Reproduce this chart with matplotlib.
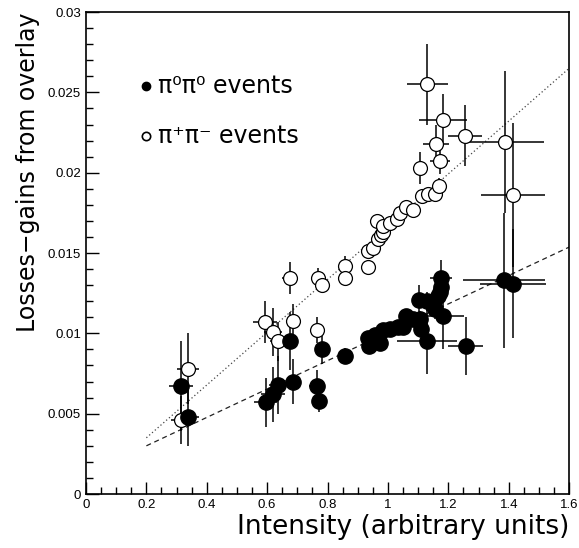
import matplotlib
matplotlib.use("Agg")
import matplotlib.pyplot as plt
from matplotlib.ticker import MultipleLocator

# pi0 pi0 events (filled)
neu_x = [0.315, 0.338, 0.596, 0.62, 0.636, 0.685, 0.675, 0.765, 0.77, 0.78,
         0.858, 0.935, 0.937, 0.957, 0.974, 0.983, 1.007, 1.033, 1.05, 1.06,
         1.083, 1.106, 1.109, 1.103, 1.13, 1.149, 1.156, 1.166, 1.172, 1.175,
         1.175, 1.182, 1.13, 1.258, 1.384, 1.414]
neu_y = [0.0067, 0.0048, 0.0057, 0.0062, 0.0068, 0.0070, 0.0095, 0.0067, 0.0058, 0.0090,
         0.0086, 0.0097, 0.0092, 0.0099, 0.0094, 0.0102, 0.0103, 0.0104, 0.0104, 0.0111,
         0.0109, 0.0109, 0.0103, 0.0121, 0.0120, 0.0118, 0.0115, 0.0123, 0.0126, 0.0129,
         0.01345, 0.0111, 0.0095, 0.0092, 0.0133, 0.0131]
neu_xerr = [0.04, 0.035, 0.038, 0.04, 0.03, 0.022, 0.02, 0.028, 0.015, 0.012,
            0.01, 0.01, 0.01, 0.01, 0.01, 0.01, 0.01, 0.01, 0.01, 0.01,
            0.01, 0.012, 0.012, 0.02, 0.015, 0.015, 0.015, 0.015, 0.015, 0.02,
            0.036, 0.07, 0.1, 0.058, 0.137, 0.109]
neu_yerr = [0.0028, 0.0018, 0.0015, 0.0017, 0.0018, 0.0014, 0.0018, 0.001, 0.0007, 0.0009,
            0.0005, 0.0004, 0.0004, 0.0004, 0.0004, 0.0004, 0.0004, 0.0004, 0.0004, 0.0004,
            0.0004, 0.0005, 0.0005, 0.0009, 0.0006, 0.0006, 0.0006, 0.0006, 0.0006, 0.0008,
            0.0011, 0.0021, 0.002, 0.0018, 0.0042, 0.0034]

# pi+ pi- events (open)
chg_x = [0.338, 0.315, 0.593, 0.62, 0.636, 0.685, 0.675, 0.766, 0.768, 0.78,
         0.858, 0.858, 0.935, 0.935, 0.951, 0.968, 0.977, 0.984, 0.964, 0.984,
         1.007, 1.03, 1.04, 1.06, 1.083, 1.112, 1.133, 1.156, 1.169, 1.106,
         1.172, 1.159, 1.182, 1.13, 1.255, 1.387, 1.414]
chg_y = [0.0078, 0.0046, 0.0107, 0.0101, 0.0095, 0.0108, 0.01345, 0.0102, 0.01345, 0.0130,
         0.0142, 0.01345, 0.0141, 0.0151, 0.0153, 0.0159, 0.0161, 0.0163, 0.0170, 0.0167,
         0.0169, 0.0171, 0.0175, 0.01786, 0.0177, 0.01855, 0.0187, 0.0187, 0.0192, 0.0203,
         0.0207, 0.0218, 0.0233, 0.0255, 0.0223, 0.0219, 0.0186]
chg_xerr = [0.035, 0.035, 0.04, 0.03, 0.025, 0.02, 0.025, 0.015, 0.012, 0.012,
            0.01, 0.01, 0.008, 0.008, 0.008, 0.008, 0.008, 0.008, 0.008, 0.008,
            0.008, 0.008, 0.008, 0.008, 0.008, 0.008, 0.008, 0.008, 0.01, 0.022,
            0.033, 0.043, 0.08, 0.068, 0.056, 0.13, 0.106]
chg_yerr = [0.0022, 0.0015, 0.0013, 0.0015, 0.0012, 0.001, 0.001, 0.0008, 0.0006, 0.0005,
            0.0006, 0.0005, 0.0003, 0.0003, 0.0003, 0.0003, 0.0003, 0.0003, 0.0003, 0.0003,
            0.0003, 0.0003, 0.0003, 0.0003, 0.0003, 0.0003, 0.0003, 0.0003, 0.0005, 0.001,
            0.0008, 0.0012, 0.0016, 0.0025, 0.0019, 0.0044, 0.0045]

# fit lines
fit_x = [0.2, 1.6]
fit_chg_y = [0.0035, 0.0265]
fit_neu_y = [0.0030, 0.01537]

fig = plt.figure(figsize=(5.79, 5.48), dpi=100)
ax = fig.add_axes([0.1485, 0.0985, 0.8345, 0.8795])

ax.plot(fit_x, fit_chg_y, linestyle=(0, (1, 2)), color='#444444', linewidth=0.9, zorder=1)
ax.plot(fit_x, fit_neu_y, linestyle=(0, (4, 3)), color='#222222', linewidth=0.9, zorder=1)

ax.errorbar(chg_x, chg_y, xerr=chg_xerr, yerr=chg_yerr, fmt='none',
            ecolor='black', elinewidth=1.1, capsize=0, zorder=2)
ax.errorbar(neu_x, neu_y, xerr=neu_xerr, yerr=neu_yerr, fmt='none',
            ecolor='black', elinewidth=1.1, capsize=0, zorder=2)
ax.plot(chg_x, chg_y, 'o', markersize=10, markerfacecolor='white',
        markeredgecolor='black', markeredgewidth=0.9, linestyle='none', zorder=3)
ax.plot(neu_x, neu_y, 'o', markersize=11, markerfacecolor='black',
        markeredgecolor='black', linestyle='none', zorder=4)

ax.set_xlim(0, 1.6)
ax.set_ylim(0, 0.03)
ax.xaxis.set_major_locator(MultipleLocator(0.2))
ax.xaxis.set_minor_locator(MultipleLocator(0.05))
ax.yaxis.set_major_locator(MultipleLocator(0.005))
ax.yaxis.set_minor_locator(MultipleLocator(0.001))
ax.tick_params(which='both', direction='in', top=False, right=False)
ax.tick_params(which='major', length=9, width=1)
ax.tick_params(which='minor', length=5, width=1)
ax.set_xticks([0, 0.2, 0.4, 0.6, 0.8, 1.0, 1.2, 1.4, 1.6])
ax.set_xticklabels(['0', '0.2', '0.4', '0.6', '0.8', '1', '1.2', '1.4', '1.6'],
                   fontfamily='Liberation Sans', fontsize=9.5)
ax.set_yticks([0, 0.005, 0.01, 0.015, 0.02, 0.025, 0.03])
ax.set_yticklabels(['0', '0.005', '0.01', '0.015', '0.02', '0.025', '0.03'],
                   fontfamily='Liberation Sans', fontsize=9.5)
for sp in ax.spines.values():
    sp.set_linewidth(1.2)

ax.set_xlabel('Intensity (arbitrary units)', fontsize=19, loc='right', labelpad=2)
ax.set_ylabel('Losses\u2212gains from overlay', fontsize=17, loc='top', labelpad=6)

# legend
ax.plot([0.2], [0.0254], 'o', markersize=6, color='black')
ax.plot([0.2], [0.0223], 'o', markersize=6, markerfacecolor='white',
        markeredgecolor='black', markeredgewidth=1.2)
ax.text(0.24, 0.0254, '\u03c0\u2070\u03c0\u2070 events', fontsize=17, va='center', ha='left')
ax.text(0.24, 0.0223, '\u03c0\u207a\u03c0\u207b events', fontsize=17, va='center', ha='left')

fig.savefig('out.png', dpi=100)
